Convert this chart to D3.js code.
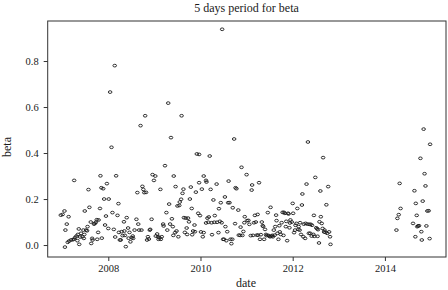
<!DOCTYPE html>
<html>
<head>
<meta charset="utf-8">
<script src="https://cdn.jsdelivr.net/npm/d3@7"></script>
<style>
  html, body { margin: 0; padding: 0; background: #fff; }
  svg { display: block; }
  text { font-family: "Liberation Serif", "DejaVu Serif", serif; fill: #1a1a1a; }
</style>
</head>
<body>
<svg id="chart" width="448" height="290"></svg>
<script>
// ---- data (decimal year, beta) ----
const title = "5 days period for beta";
const xLabel = "date";
const yLabel = "beta";
const xTicks = [2008, 2010, 2012, 2014];
const yTicks = [0.0, 0.2, 0.4, 0.6, 0.8];

const dates = [
2006.97,2007.01,2007.05,2007.07,2007.06,2007.10,2007.14,2007.12,2007.15,2007.19,
2007.23,2007.26,2007.26,2007.28,2007.31,2007.33,2007.34,2007.36,2007.37,2007.39,
2007.41,2007.44,2007.46,2007.48,2007.47,2007.49,2007.52,2007.54,2007.55,2007.57,
2007.59,2007.62,2007.63,2007.65,2007.66,2007.69,2007.71,2007.73,2007.75,2007.76,
2007.78,2007.79,2007.82,2007.83,2007.85,2007.86,2007.89,2007.91,2007.93,2007.95,
2007.97,2008.00,2008.01,2008.04,2008.07,2008.09,2008.12,2008.14,2008.15,2008.17,
2008.20,2008.22,2008.23,2008.25,2008.27,2008.29,2008.31,2008.34,2008.35,2008.36,
2008.38,2008.40,2008.43,2008.44,2008.46,2008.48,2008.51,2008.53,2008.54,2008.57,
2008.61,2008.63,2008.65,2008.67,2008.70,2008.72,2008.74,2008.76,2008.78,2008.80,
2008.82,2008.84,2008.86,2008.88,2008.90,2008.91,2008.94,2008.96,2008.99,2009.02,
2009.03,2009.06,2009.08,2009.09,2009.11,2009.13,2009.14,2009.16,2009.19,2009.20,
2009.23,2009.26,2009.28,2009.30,2009.32,2009.34,2009.36,2009.38,2009.40,2009.41,
2009.42,2009.45,2009.46,2009.48,2009.50,2009.52,2009.54,2009.55,2009.58,2009.59,
2009.61,2009.63,2009.64,2009.66,2009.68,2009.70,2009.71,2009.73,2009.75,2009.77,
2009.79,2009.81,2009.82,2009.84,2009.87,2009.88,2009.90,2009.92,2009.95,2009.97,
2009.97,2009.99,2010.01,2010.03,2010.05,2010.07,2010.07,2010.12,2010.12,2010.13,
2010.15,2010.17,2010.18,2010.20,2010.22,2010.24,2010.25,2010.28,2010.30,2010.31,
2010.35,2010.36,2010.39,2010.40,2010.42,2010.44,2010.46,2010.47,2010.49,2010.51,
2010.53,2010.54,2010.56,2010.58,2010.60,2010.61,2010.63,2010.65,2010.67,2010.69,
2010.70,2010.73,2010.75,2010.76,2010.78,2010.82,2010.83,2010.86,2010.87,2010.89,
2010.91,2010.93,2010.95,2010.96,2011.00,2011.01,2011.04,2011.06,2011.09,2011.11,
2011.12,2011.14,2011.16,2011.18,2011.20,2011.22,2011.24,2011.25,2011.27,2011.29,
2011.31,2011.33,2011.35,2011.36,2011.38,2011.40,2011.42,2011.43,2011.46,2011.47,
2011.49,2011.51,2011.52,2011.54,2011.56,2011.57,2011.59,2011.61,2011.62,2011.64,
2011.65,2011.67,2011.69,2011.71,2011.72,2011.74,2011.76,2011.78,2011.80,2011.81,
2011.83,2011.85,2011.86,2011.88,2011.90,2011.91,2011.93,2011.94,2011.95,2011.98,
2012.00,2012.01,2012.03,2012.05,2012.06,2012.08,2012.10,2012.12,2012.13,2012.15,
2012.16,2012.18,2012.20,2012.21,2012.23,2012.24,2012.27,2012.28,2012.30,2012.32,
2012.33,2012.35,2012.36,2012.38,2012.39,2012.41,2012.42,2012.45,2012.46,2012.47,
2012.49,2012.51,2012.53,2012.54,2012.55,2012.57,2012.58,2012.60,2012.61,2012.63,
2012.65,2012.66,2012.68,2012.69,2012.71,2012.73,2012.75,2012.77,2012.79,2012.81,
2012.82,
2014.25,2014.27,2014.30,2014.32,2014.34,2014.61,2014.64,2014.66,2014.67,2014.69,
2014.70,2014.72,2014.74,2014.77,2014.79,2014.80,2014.82,2014.84,2014.86,2014.88,
2014.90,2014.92,2014.95,2014.97,2014.98
];

const betas = [
0.130,0.133,0.148,0.065,-0.009,0.091,0.123,0.012,0.017,0.022,
0.023,0.281,0.026,0.033,0.039,0.019,0.046,0.070,0.003,0.035,
0.051,0.036,0.065,0.046,0.029,0.148,0.065,0.062,0.080,0.241,
0.164,0.100,0.007,0.029,0.022,0.091,0.094,0.099,0.110,0.025,
0.055,0.109,0.159,0.301,0.249,0.030,0.245,0.200,0.087,0.126,
0.267,0.072,0.200,0.665,0.425,0.141,0.068,0.780,0.035,0.301,
0.129,0.180,0.055,0.022,0.022,0.058,0.041,0.101,0.061,0.042,
-0.007,0.119,0.074,0.030,0.055,0.014,0.032,0.039,0.029,0.065,
0.112,0.228,0.091,0.065,0.519,0.065,0.255,0.242,0.228,0.562,
0.229,0.022,0.036,0.026,0.065,0.068,0.112,0.306,0.281,0.300,
0.039,0.048,0.036,0.025,0.032,0.242,0.025,0.036,0.091,0.083,
0.345,0.141,0.065,0.617,0.178,0.091,0.467,0.114,0.080,0.042,
0.300,0.054,0.254,0.061,0.170,0.036,0.172,0.187,0.199,0.562,
0.225,0.243,0.119,0.055,0.117,0.074,0.046,0.117,0.101,0.200,
0.252,0.159,0.045,0.061,0.087,0.058,0.230,0.396,0.138,0.394,
0.271,0.128,0.057,0.243,0.036,0.300,0.054,0.281,0.096,0.274,
0.117,0.099,0.122,0.387,0.242,0.097,0.045,0.196,0.099,0.128,
0.265,0.099,0.054,0.158,0.103,0.184,0.097,0.938,0.025,0.025,
0.209,0.080,0.019,0.058,0.184,0.278,0.184,0.025,0.006,0.025,
0.162,0.461,0.093,0.249,0.245,0.152,0.043,0.042,0.078,0.338,
0.042,0.059,0.097,0.123,0.306,0.106,0.107,0.090,0.041,0.239,
0.261,0.042,0.097,0.129,0.100,0.043,0.133,0.043,0.271,0.025,
0.045,0.100,0.084,0.081,0.025,0.068,0.046,0.041,0.141,0.042,
0.039,0.036,0.164,0.039,0.042,0.036,0.065,0.043,0.080,0.130,
0.106,0.051,0.025,0.084,0.057,0.046,0.097,0.142,0.042,0.142,
0.138,0.080,0.103,0.019,0.138,0.135,0.075,0.096,0.109,0.100,
0.181,0.138,0.054,0.065,0.086,0.094,0.159,0.068,0.080,0.065,
0.097,0.046,0.174,0.222,0.036,0.091,0.029,0.094,0.265,0.091,
0.448,0.051,0.090,0.051,0.090,0.039,0.086,0.046,0.129,0.038,
0.294,0.075,0.071,0.038,0.067,0.009,0.101,0.235,0.123,0.094,
0.072,0.380,0.057,0.065,0.055,0.175,0.051,0.254,0.057,0.036,
0.003,
0.065,0.116,0.132,0.268,0.159,0.094,0.236,0.036,0.181,0.129,
0.080,0.083,0.084,0.377,0.058,0.022,0.191,0.504,0.310,0.257,
0.083,0.148,0.149,0.028,0.438
];

// ---- layout ----
const W = 448, H = 290;
const plot = { left: 47.7, right: 446, top: 21, bottom: 257 };

const x = d3.scaleLinear().domain([2006.686, 2015.325]).range([plot.left, plot.right]);
const y = d3.scaleLinear().domain([-0.052, 0.974]).range([plot.bottom, plot.top]);

const svg = d3.select("#chart");

// title
svg.append("text")
  .attr("x", 246.5)
  .attr("y", 11.5)
  .attr("text-anchor", "middle")
  .attr("font-size", 12)
  .text(title);

// box
svg.append("rect")
  .attr("x", plot.left).attr("y", plot.top)
  .attr("width", plot.right - plot.left)
  .attr("height", plot.bottom - plot.top)
  .attr("fill", "none").attr("stroke", "#333").attr("stroke-width", 1);

// x axis
const xAxis = d3.axisBottom(x).tickValues(xTicks).tickFormat(d3.format("d")).tickSize(4).tickPadding(4);
const gx = svg.append("g").attr("transform", `translate(0,${plot.bottom})`).call(xAxis);
gx.select(".domain").remove();
gx.selectAll("line").attr("stroke", "#333");
gx.selectAll("text").attr("font-size", 10.5).attr("font-family", "Liberation Serif, serif").attr("fill", "#1a1a1a");

// y axis
const yAxis = d3.axisLeft(y).tickValues(yTicks).tickFormat(d3.format(".1f")).tickSize(4).tickPadding(5);
const gy = svg.append("g").attr("transform", `translate(${plot.left},0)`).call(yAxis);
gy.select(".domain").remove();
gy.selectAll("line").attr("stroke", "#333");
gy.selectAll("text").attr("font-size", 10.5).attr("font-family", "Liberation Serif, serif").attr("fill", "#1a1a1a");

// axis labels
svg.append("text")
  .attr("x", 246)
  .attr("y", 287)
  .attr("text-anchor", "middle")
  .attr("font-size", 12)
  .text(xLabel);

svg.append("text")
  .attr("transform", `translate(11,147) rotate(-90)`)
  .attr("text-anchor", "middle")
  .attr("font-size", 12)
  .text(yLabel);

// points
const pts = dates.map((d, i) => ({ date: d, beta: betas[i] }));
svg.append("g")
  .selectAll("ellipse")
  .data(pts)
  .join("ellipse")
  .attr("cx", d => x(d.date))
  .attr("cy", d => y(d.beta))
  .attr("rx", 1.8)
  .attr("ry", 1.35)
  .attr("fill", "none")
  .attr("stroke", "#1a1a1a")
  .attr("stroke-width", 0.9);
</script>
</body>
</html>
